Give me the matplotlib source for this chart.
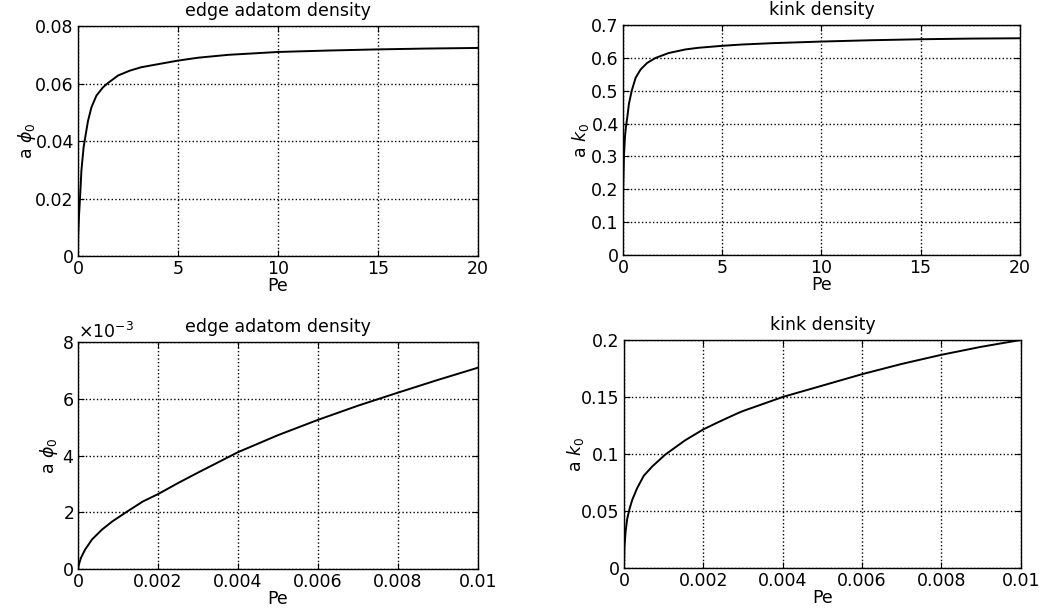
import numpy as np
import matplotlib.pyplot as plt
from matplotlib.ticker import ScalarFormatter

# values
# top row: Pe from 0 to 20
pe_wide = [0, 0.01, 0.05, 0.1, 0.17, 0.28, 0.33, 0.5, 0.67, 0.92, 1.25, 1.5, 2.0, 2.59,
           3.17, 3.8, 5.0, 6.0, 7.5, 10, 12.5, 15, 17.5, 20]
phi_wide = [0, 0.0071, 0.014, 0.020, 0.0297, 0.0378, 0.040, 0.047, 0.0517, 0.0558, 0.0587,
            0.0602, 0.0628, 0.0645, 0.0657, 0.0665, 0.0680, 0.0690, 0.0700, 0.0710,
            0.0715, 0.0719, 0.0722, 0.0724]

pe_kink_wide = [0, 0.001, 0.005, 0.01, 0.05, 0.1, 0.15, 0.22, 0.3, 0.44, 0.64, 0.89, 1.22,
                1.64, 2.3, 3.15, 3.8, 5.0, 6.0, 7.5, 10, 12.5, 15, 17.5, 20]
kink_wide = [0, 0.100, 0.160, 0.200, 0.300, 0.360, 0.390, 0.420, 0.460, 0.500, 0.540, 0.565,
             0.585, 0.600, 0.615, 0.626, 0.631, 0.637, 0.641, 0.645, 0.650, 0.654, 0.657,
             0.659, 0.660]

# bottom row: Pe from 0 to 0.01
pe_phi_narrow = [0, 0.000025, 0.000076, 0.00018, 0.00035, 0.0006, 0.00086, 0.0012, 0.00162,
                 0.002, 0.0025, 0.003, 0.004, 0.005, 0.006, 0.007, 0.008, 0.009, 0.01]
phi_narrow = [0, 0.00017, 0.0004, 0.00069, 0.00104, 0.00139, 0.00168, 0.0020, 0.00238,
              0.00264, 0.00303, 0.00340, 0.00412, 0.00472, 0.00526, 0.00576, 0.00622,
              0.00667, 0.0071]

pe_kink_narrow = [0, 0.00001, 0.00004, 0.00008, 0.00014, 0.00021, 0.00033, 0.0005, 0.00071,
                  0.00104, 0.00154, 0.002, 0.00238, 0.00283, 0.003, 0.004, 0.005, 0.006,
                  0.007, 0.008, 0.009, 0.01]
kink_narrow = [0, 0.018, 0.032, 0.043, 0.052, 0.060, 0.070, 0.081, 0.089, 0.0995, 0.112,
               0.1216, 0.128, 0.1352, 0.1377, 0.150, 0.160, 0.170, 0.179, 0.187, 0.194, 0.200]

xt_wide = [0, 5, 10, 15, 20]
xt_narrow = [0, 0.002, 0.004, 0.006, 0.008, 0.01]
xl_narrow = ['0', '0.002', '0.004', '0.006', '0.008', '0.01']

plt.rcParams['font.family'] = ['DejaVu Sans']
plt.rcParams['font.size'] = 12.5
plt.rcParams['mathtext.fontset'] = 'dejavusans'

fig = plt.figure(figsize=(10.47, 6.13), dpi=100)

ax1 = fig.add_axes([0.0745, 0.5824, 0.382, 0.375])
ax2 = fig.add_axes([0.595, 0.5840, 0.379, 0.375])
ax3 = fig.add_axes([0.0745, 0.0718, 0.382, 0.370])
ax4 = fig.add_axes([0.596, 0.0734, 0.379, 0.372])


def style(ax):
    ax.grid(True, color='black', linestyle=':', linewidth=1.0)
    ax.tick_params(direction='in', top=True, right=True, length=4, labelsize=12.5, pad=3)
    for s in ax.spines.values():
        s.set_linewidth(1.0)
    ax.set_xlabel('Pe', labelpad=-1)


ax1.plot(pe_wide, phi_wide, color='black', lw=1.4)
ax1.set_xlim(0, 20)
ax1.set_ylim(0, 0.08)
ax1.set_xticks(xt_wide)
ax1.set_yticks([0, 0.02, 0.04, 0.06, 0.08])
ax1.set_yticklabels(['0', '0.02', '0.04', '0.06', '0.08'])
ax1.set_title('edge adatom density', fontsize=12.5, pad=7)
ax1.set_ylabel(r'a $\phi_0$', labelpad=-2)
style(ax1)

ax2.plot(pe_kink_wide, kink_wide, color='black', lw=1.4)
ax2.set_xlim(0, 20)
ax2.set_ylim(0, 0.7)
ax2.set_xticks(xt_wide)
ax2.set_yticks(np.arange(0, 0.71, 0.1))
ax2.set_yticklabels(['0', '0.1', '0.2', '0.3', '0.4', '0.5', '0.6', '0.7'])
ax2.set_title('kink density', fontsize=12.5, pad=7)
ax2.set_ylabel(r'a $k_0$', labelpad=0)
style(ax2)

ax3.plot(pe_phi_narrow, phi_narrow, color='black', lw=1.4)
ax3.set_xlim(0, 0.01)
ax3.set_ylim(0, 0.008)
ax3.set_xticks(xt_narrow)
ax3.set_xticklabels(xl_narrow)
ax3.set_yticks([0, 0.002, 0.004, 0.006, 0.008])
fmt = ScalarFormatter(useMathText=True)
fmt.set_powerlimits((-3, -3))
ax3.yaxis.set_major_formatter(fmt)
ax3.yaxis.get_offset_text().set_fontsize(12.5)
ax3.set_title('edge adatom density', fontsize=12.5, pad=7)
ax3.set_ylabel(r'a $\phi_0$', labelpad=1)
style(ax3)

ax4.plot(pe_kink_narrow, kink_narrow, color='black', lw=1.4)
ax4.set_xlim(0, 0.01)
ax4.set_ylim(0, 0.2)
ax4.set_xticks(xt_narrow)
ax4.set_xticklabels(xl_narrow)
ax4.set_yticks([0, 0.05, 0.1, 0.15, 0.2])
ax4.set_yticklabels(['0', '0.05', '0.1', '0.15', '0.2'])
ax4.set_title('kink density', fontsize=12.5, pad=7)
ax4.set_ylabel(r'a $k_0$', labelpad=-3)
style(ax4)

fig.savefig('out.png', dpi=100)
